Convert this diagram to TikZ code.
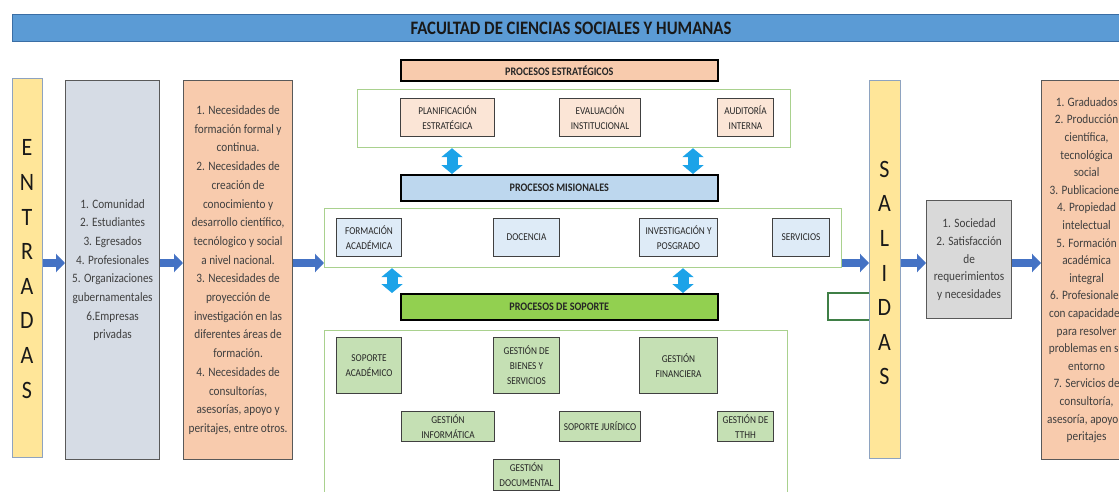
\documentclass[tikz,border=0pt]{standalone}
\usepackage{fontspec}
\setmainfont[FakeStretch=0.88]{Carlito}
\usetikzlibrary{arrows.meta}
\definecolor{titleblue}{HTML}{5B9BD5}
\definecolor{titleedge}{HTML}{3A6EA5}
\definecolor{ybarfill}{HTML}{FFE699}
\definecolor{ybaredge}{HTML}{8EA3C0}
\definecolor{grayfill}{HTML}{D6DCE5}
\definecolor{grayfill2}{HTML}{D9D9D9}
\definecolor{orfill}{HTML}{F8CBAD}
\definecolor{estfill}{HTML}{FBE5D6}
\definecolor{hdrblue}{HTML}{BDD7EE}
\definecolor{misfill}{HTML}{DEEBF7}
\definecolor{hdrgreen}{HTML}{92D050}
\definecolor{supfill}{HTML}{C5E0B4}
\definecolor{framegreen}{HTML}{A9D18E}
\definecolor{arrowblue}{HTML}{4472C4}
\definecolor{cyanarrow}{HTML}{1CA3E8}
\definecolor{bracketgreen}{HTML}{3F7F46}
\definecolor{sidetext}{HTML}{404040}
\definecolor{innertext}{HTML}{262626}
\begin{document}
\begin{tikzpicture}[x=1pt,y=-1pt,
  base/.style={anchor=north west, inner sep=0pt, align=center},
  titlebar/.style={base, fill=titleblue, draw=titleedge, line width=1pt,
    font={\fontsize{19}{22}\selectfont\bfseries}, text=black!90},
  ybar/.style={base, fill=ybarfill, draw=ybaredge, line width=1.2pt},
  bigletters/.style={anchor=center, inner sep=0pt, align=center,
    font={\fontsize{25}{34.6}\selectfont}, text=black!90},
  sidebox/.style={base, line width=1.2pt, draw=black!65, text=sidetext,
    font={\fontsize{12.8}{18.7}\selectfont}},
  graybox/.style={sidebox, fill=grayfill},
  graybox2/.style={sidebox, fill=grayfill2, font={\fontsize{12.8}{17.7}\selectfont}},
  orbox/.style={sidebox, fill=orfill},
  header/.style={base, draw=black, line width=1.6pt,
    font={\fontsize{11.5}{13}\selectfont\bfseries}, text=innertext},
  frame/.style={base, draw=framegreen, line width=1.2pt},
  inner/.style={base, draw=black!75, line width=1pt, text=innertext,
    font={\fontsize{10.5}{15}\selectfont}},
  estbox/.style={inner, fill=estfill},
  misbox/.style={inner, fill=misfill},
  supbox/.style={inner, fill=supfill},
  barrow/.style={draw=arrowblue, line width=8pt, -{Triangle[length=9pt,width=18pt]}},
  dblarrow/.style={draw=cyanarrow, line width=11pt,
    {Triangle[length=9pt,width=21pt]}-{Triangle[length=9pt,width=21pt]}},
  bracket/.style={draw=bracketgreen, line width=1.5pt}
]
\useasboundingbox (0,0) rectangle (1119,492);
\clip (0,0) rectangle (1119,492);

% title
\node[titlebar, minimum width=1117, minimum height=27] (title) at (12,14)
  {FACULTAD DE CIENCIAS SOCIALES Y HUMANAS};

% left column
\node[ybar, minimum width=30, minimum height=379] (entradas) at (12,78) {};
\node[bigletters] (enttxt) at (27,269) {E\\N\\T\\R\\A\\D\\A\\S};
\node[graybox, minimum width=94, minimum height=379] (insum) at (65,80)
  {1. Comunidad\\2. Estudiantes\\3. Egresados\\4. Profesionales\\5. Organizaciones\\gubernamentales\\6.Empresas\\privadas};
\node[orbox, minimum width=109, minimum height=379] (needs) at (183,80)
  {1. Necesidades de\\formación formal y\\continua.\\2. Necesidades de\\creación de\\conocimiento y\\desarrollo científico,\\tecnólogico y social\\a nivel nacional.\\3. Necesidades de\\proyección de\\investigación en las\\diferentes áreas de\\formación.\\4. Necesidades de\\consultorías,\\asesorías, apoyo y\\peritajes, entre otros.};

% strategic processes
\node[header, fill=orfill, minimum width=317, minimum height=21] (pe) at (400,59) {PROCESOS ESTRATÉGICOS};
\node[frame, minimum width=433, minimum height=58] (peframe) at (357,89) {};
\node[estbox, minimum width=94, minimum height=38] (planif) at (400,98) {PLANIFICACIÓN\\ESTRATÉGICA};
\node[estbox, minimum width=81, minimum height=38] (eval) at (559,98) {EVALUACIÓN\\INSTITUCIONAL};
\node[estbox, minimum width=56, minimum height=38] (audit) at (717,98) {AUDITORÍA\\INTERNA};

% missional processes
\node[header, fill=hdrblue, minimum width=317, minimum height=26] (pm) at (400,174) {PROCESOS MISIONALES};
\node[frame, minimum width=517, minimum height=59] (pmframe) at (324,208) {};
\node[misbox, minimum width=65, minimum height=38] (form) at (336,218) {FORMACIÓN\\ACADÉMICA};
\node[misbox, minimum width=66, minimum height=38] (doc) at (493,218) {DOCENCIA};
\node[misbox, minimum width=78, minimum height=38] (inv) at (639,218) {INVESTIGACIÓN Y\\POSGRADO};
\node[misbox, minimum width=57, minimum height=38] (serv) at (772,218) {SERVICIOS};

% support processes
\node[header, fill=hdrgreen, minimum width=317, minimum height=26] (ps) at (400,293) {PROCESOS DE SOPORTE};
\node[frame, minimum width=463, minimum height=180] (psframe) at (324,330) {};
\node[supbox, minimum width=65, minimum height=56] (sacad) at (336,337) {SOPORTE\\ACADÉMICO};
\node[supbox, minimum width=66, minimum height=56] (gbienes) at (493,337) {GESTIÓN DE\\BIENES Y\\SERVICIOS};
\node[supbox, minimum width=78, minimum height=56] (gfin) at (639,337) {GESTIÓN\\FINANCIERA};
\node[supbox, minimum width=93, minimum height=30] (ginf) at (401,411) {GESTIÓN\\INFORMÁTICA};
\node[supbox, minimum width=81, minimum height=30] (sjur) at (559,411) {SOPORTE JURÍDICO};
\node[supbox, minimum width=56, minimum height=30] (gth) at (717,411) {GESTIÓN DE\\TTHH};
\node[supbox, minimum width=66, minimum height=31] (gdoc) at (493,459) {GESTIÓN\\DOCUMENTAL};

% right column
\node[ybar, minimum width=31, minimum height=378] (salidas) at (869,80) {};
\node[bigletters] (saltxt) at (884.5,273) {S\\A\\L\\I\\D\\A\\S};
\node[graybox2, minimum width=85, minimum height=118] (soc) at (926,200)
  {1. Sociedad\\2. Satisfacción\\de\\requerimientos\\y necesidades};
\node[orbox, minimum width=90, minimum height=379, font={\fontsize{12.8}{17.6}\selectfont}] (outputs) at (1041,80)
  {1. Graduados\\2. Producción\\científica,\\tecnológica\\social\\3. Publicaciones\\4. Propiedad\\intelectual\\5. Formación\\académica\\integral\\6. Profesionales\\con capacidades\\para resolver\\problemas en su\\entorno\\7. Servicios de\\consultoría,\\asesoría, apoyo y\\peritajes};

% flow arrows
\coordinate (yA) at (0,263);
\draw[barrow] (entradas.east |- yA) -- (insum.west |- yA);
\draw[barrow] (insum.east |- yA) -- (needs.west |- yA);
\draw[barrow] (needs.east |- yA) -- (pmframe.west |- yA);
\draw[barrow] (pmframe.east |- yA) -- (salidas.west |- yA);
\draw[barrow] (salidas.east |- yA) -- (soc.west |- yA);
\draw[barrow] (soc.east |- yA) -- (outputs.west |- yA);

% double arrows
\coordinate (c1) at (452,0);
\coordinate (c2) at (693,0);
\coordinate (c3) at (392,0);
\coordinate (c4) at (683,0);
\draw[dblarrow] (c1 |- peframe.south) -- (c1 |- pm.north);
\draw[dblarrow] (c2 |- peframe.south) -- (c2 |- pm.north);
\draw[dblarrow] (c3 |- pmframe.south) -- (c3 |- ps.north);
\draw[dblarrow] (c4 |- pmframe.south) -- (c4 |- ps.north);

% small bracket
\coordinate (yB1) at (0,293);
\coordinate (yB2) at (0,320);
\draw[bracket] (salidas.west |- yB1) -- ++(-41,0) |- (salidas.west |- yB2);
\end{tikzpicture}
\end{document}
